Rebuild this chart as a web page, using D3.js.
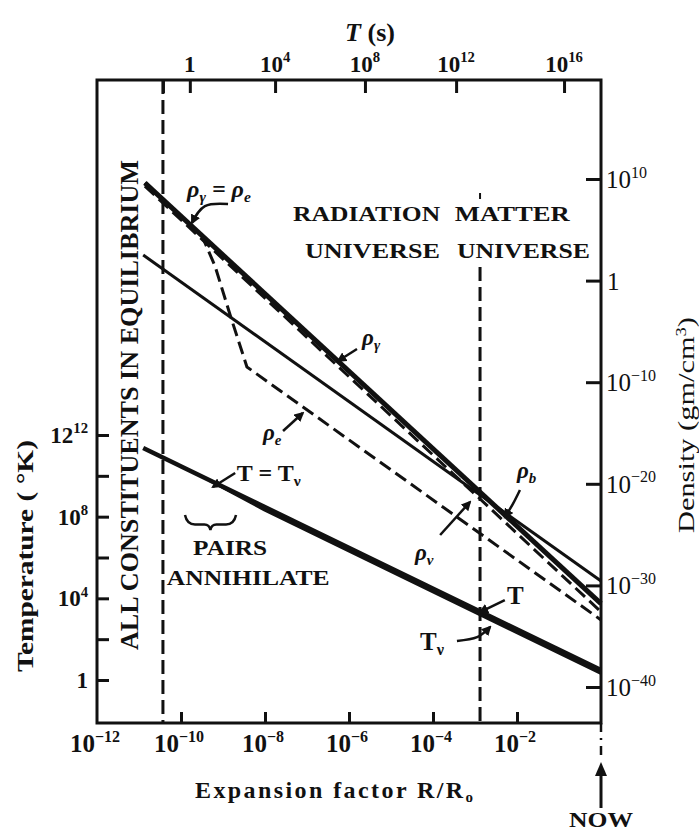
<!DOCTYPE html>
<html lang="en">
<head>
<meta charset="UTF-8">
<title>Thermal history of the universe</title>
<script src="https://d3js.org/d3.v7.min.js"></script>
<style>
  body { margin: 0; background: #fff; }
  svg text { font-family: "Liberation Serif", "DejaVu Serif", serif; fill: #111; }
</style>
</head>
<body>
<script>
// --- data (log10 values) ---
// expansion factor R/R0
var xTickExp = [-12, -10, -8, -6, -4, -2];
// time T(s) labels and the R/R0 where they sit on the top axis
var timeExp = ["0", "4", "8", "12", "16"];
var timeAtR = [-9.79, -7.76, -5.62, -3.45, -0.88];
var equilR = -10.43;   // end of "all constituents in equilibrium"
var matterR = -2.88;   // radiation / matter boundary
var matterTop = 1.34;  // top of that dashed line, in density units
// temperature (K)
var tempMajor = [0, 4, 8, 12];
var tempBase = ["1", "10", "10", "12"];
var tempSup = ["", "4", "8", "12"];
var tempMinor = [2, 6, 10];
// density (gm/cm^3)
var densTickExp = [10, 0, -10, -20, -30, -40];

// curves: [log10 R/R0, log10 value]
var rhoGamma = [[-10.86, 9.61], [0, -31.8]];
var rhoNu = [[-10.86, 9.3], [0, -32.6]];
var rhoE = [[-10.86, 9.61], [-9.5, 4.39], [-9.19, 1.44], [-8.83, -3.39], [-8.43, -8.5], [0, -33.4]];
var rhoB = [[-10.9, 2.52], [0, -29.57]];
var tempT = [[-10.9, 11.36], [0, 0.49]];
var tempTnu = [[-9.31, 9.77], [-8.0, 8.33], [0, 0.33]];

// --- layout ---
var W = 699, H = 833;
var plotL = 97, plotR = 601, plotT = 80, plotB = 723;

var svg = d3.select("body").append("svg").attr("width", W).attr("height", H);

var x = d3.scaleLog().domain([1e-12, 1]).range([plotL, plotR]);
var yT = d3.scaleLog().domain([1, 1e12]).range([680, 435]);
var yD = d3.scaleLog().domain([1e-40, 1e10]).range([687, 179]);
function p10(v) { return Math.pow(10, v); }
function P(la, lr) { return [x(p10(la)), yD(p10(lr))]; }

svg.append("defs").append("marker")
  .attr("id", "ah").attr("viewBox", "0 0 10 10").attr("refX", 8).attr("refY", 5)
  .attr("markerWidth", 4).attr("markerHeight", 4).attr("orient", "auto")
  .append("path").attr("d", "M0,0 L10,5 L0,10 z").attr("fill", "#111");

// frame
svg.append("rect").attr("x", plotL).attr("y", plotT)
  .attr("width", plotR - plotL).attr("height", plotB - plotT)
  .attr("fill", "none").attr("stroke", "#111").attr("stroke-width", 3);

// bottom ticks
var bAxis = svg.append("g").attr("transform", "translate(0," + plotB + ")")
  .call(d3.axisBottom(x).tickValues(xTickExp.slice(1).map(p10)).tickSizeInner(-11).tickSizeOuter(0).tickFormat(""));
bAxis.select(".domain").remove();
bAxis.selectAll("line").attr("stroke", "#111").attr("stroke-width", 3);

function supText(g, xx, yy, base, sup, anchor, size, weight) {
  var t = g.append("text").attr("x", xx).attr("y", yy).attr("text-anchor", anchor)
    .attr("font-size", size).attr("font-weight", weight);
  t.append("tspan").text(base);
  if (sup) t.append("tspan").attr("dy", -size * 0.42).attr("font-size", size * 0.64).text(sup);
  return t;
}

xTickExp.forEach(function (e) {
  supText(svg, x(p10(e)) - 2, 752, "10", "\u2212" + (-e), "middle", 25, "bold");
});

// top axis T(s)
var tAxis = svg.append("g").attr("transform", "translate(0," + plotT + ")")
  .call(d3.axisTop(x).tickValues(timeAtR.concat([equilR]).map(p10)).tickSizeInner(-13).tickSizeOuter(0).tickFormat(""));
tAxis.select(".domain").remove();
tAxis.selectAll("line").attr("stroke", "#111").attr("stroke-width", 3);
timeAtR.forEach(function (r, i) {
  if (timeExp[i] === "0") supText(svg, x(p10(r)), 72, "1", "", "middle", 23, "bold");
  else supText(svg, x(p10(r)), 72, "10", timeExp[i], "middle", 23, "bold");
});
var ts = svg.append("text").attr("x", 370).attr("y", 41).attr("text-anchor", "middle")
  .attr("font-size", 26).attr("font-weight", "bold");
ts.append("tspan").attr("font-style", "italic").text("T");
ts.append("tspan").text(" (s)");

// left temperature axis
var lAxis = svg.append("g").attr("transform", "translate(" + plotL + ",0)")
  .call(d3.axisLeft(yT).tickValues(tempMajor.concat(tempMinor).map(p10)).tickSizeInner(-12).tickSizeOuter(0).tickFormat(""));
lAxis.select(".domain").remove();
lAxis.selectAll("line").attr("stroke", "#111").attr("stroke-width", 3);
tempMajor.forEach(function (e, i) {
  supText(svg, 88, yT(p10(e)) + 8, tempBase[i], tempSup[i], "end", 23, "bold");
});
svg.append("text").attr("transform", "translate(33,556) rotate(-90)")
  .attr("text-anchor", "middle").attr("font-size", 24).attr("font-weight", "bold")
  .attr("textLength", 232).attr("lengthAdjust", "spacingAndGlyphs")
  .text("Temperature ( \u00b0K)");

// right density axis
var rAxis = svg.append("g").attr("transform", "translate(" + plotR + ",0)")
  .call(d3.axisRight(yD).tickValues(densTickExp.map(p10)).tickSizeInner(-15).tickSizeOuter(0).tickFormat(""));
rAxis.select(".domain").remove();
rAxis.selectAll("line").attr("stroke", "#111").attr("stroke-width", 3);
densTickExp.forEach(function (e) {
  if (e === 0) supText(svg, 607, yD(1) + 9, "1", "", "start", 25, "normal");
  else supText(svg, 606, yD(p10(e)) + 9, "10", e < 0 ? "\u2212" + (-e) : "" + e, "start", 25, "normal");
});
var dl = svg.append("text").attr("transform", "translate(694,425) rotate(-90)")
  .attr("text-anchor", "middle").attr("font-size", 23)
  .attr("textLength", 216).attr("lengthAdjust", "spacingAndGlyphs");
dl.append("tspan").text("Density (gm/cm");
dl.append("tspan").attr("dy", -8).attr("font-size", 14).text("3");
dl.append("tspan").attr("dy", 8).text(")");

// x title
var xt = svg.append("text").attr("x", 334).attr("y", 798).attr("text-anchor", "middle")
  .attr("font-size", 24).attr("font-weight", "bold")
  .attr("textLength", 278).attr("lengthAdjust", "spacing");
xt.append("tspan").text("Expansion factor R/R");
xt.append("tspan").attr("dy", 4).attr("font-size", 15).text("o");

// dashed boundaries
svg.append("line").attr("x1", x(p10(equilR))).attr("x2", x(p10(equilR)))
  .attr("y1", plotT).attr("y2", plotB)
  .attr("stroke", "#111").attr("stroke-width", 3).attr("stroke-dasharray", "14,6");
svg.append("line").attr("x1", x(p10(matterR))).attr("x2", x(p10(matterR)))
  .attr("y1", yD(p10(matterTop))).attr("y2", plotB)
  .attr("stroke", "#111").attr("stroke-width", 3).attr("stroke-dasharray", "14,6");
svg.append("line").attr("x1", x(p10(matterR))).attr("x2", x(p10(matterR)))
  .attr("y1", yD(p10(8.62))).attr("y2", yD(p10(8.03)))
  .attr("stroke", "#111").attr("stroke-width", 2);

// curves
var lineD = d3.line().x(function (d) { return x(p10(d[0])); }).y(function (d) { return yD(p10(d[1])); });
var lineT = d3.line().x(function (d) { return x(p10(d[0])); }).y(function (d) { return yT(p10(d[1])); });

function draw(path, w, dash) {
  var p = svg.append("path").attr("d", path).attr("fill", "none")
    .attr("stroke", "#111").attr("stroke-width", w).attr("stroke-linejoin", "round");
  if (dash) p.attr("stroke-dasharray", dash);
}
draw(lineD(rhoB), 3);
draw(lineD(rhoGamma), 5);
draw(lineD(rhoNu), 3, "13,6");
draw(lineD(rhoE), 3, "13,6");
draw(lineT(tempT), 4.5);
draw(lineT(tempTnu), 3.5);

// labels on curves
function label(pos, parts, size, italic, anchor) {
  var p = P(pos[0], pos[1]);
  var t = svg.append("text").attr("x", p[0]).attr("y", p[1]).attr("font-size", size)
    .attr("font-weight", "bold").attr("text-anchor", anchor || "start");
  parts.forEach(function (s) {
    var sp = t.append("tspan").text(s[0]);
    if (italic) sp.attr("font-style", "italic");
    if (s[1] === "sub") sp.attr("dy", 5).attr("font-size", size * 0.65);
    if (s[1] === "back") sp.attr("dy", -5);
  });
  return t;
}
label([-9.857, 8.23], [["\u03c1"], ["\u03b3", "sub"], [" = \u03c1", "back"], ["e", "sub"]], 24, true);
label([-5.69, -6.34], [["\u03c1"], ["\u03b3", "sub"]], 23, true);
label([-8.05, -15.69], [["\u03c1"], ["e", "sub"]], 23, true);
label([-2.0, -19.43], [["\u03c1"], ["b", "sub"]], 23, true);
label([-4.43, -27.5], [["\u03c1"], ["\u03bd", "sub"]], 23, true);
label([-8.67, -19.72], [["T = T"], ["\u03bd", "sub"]], 24, false);
label([-2.24, -31.83], [["T"]], 25, false);
label([-4.31, -36.36], [["T"], ["\u03bd", "sub"]], 25, false);

// pointers
var ptrs = [
  [[-8.88, 7.54], [-9.43, 7.34], [-9.74, 5.67]],
  [[-5.81, -6.73], [-6.26, -7.91]],
  [[-7.57, -14.8], [-7.10, -13.03]],
  [[-8.71, -18.94], [-9.24, -20.31]],
  [[-1.93, -20.61], [-2.1, -22.0], [-2.29, -23.27]],
  [[-3.83, -25.04], [-3.12, -21.79]],
  [[-2.29, -31.44], [-2.88, -32.62]],
  [[-3.43, -35.47], [-2.95, -35.1], [-2.64, -34.09]]
];
var lineP = d3.line().curve(d3.curveNatural)
  .x(function (d) { return x(p10(d[0])); }).y(function (d) { return yD(p10(d[1])); });
ptrs.forEach(function (pt) {
  svg.append("path").attr("d", lineP(pt)).attr("fill", "none").attr("stroke", "#111")
    .attr("stroke-width", 2.5).attr("marker-end", "url(#ah)");
});

// region texts
function block(pos, str, len, anchor) {
  var p = P(pos[0], pos[1]);
  svg.append("text").attr("x", p[0]).attr("y", p[1]).attr("font-size", 22)
    .attr("font-weight", "bold").attr("text-anchor", anchor || "start")
    .attr("textLength", len).attr("lengthAdjust", "spacingAndGlyphs").text(str);
}
block([-7.33, 5.87], "RADIATION", 147);
block([-7.05, 2.22], "UNIVERSE", 135);
block([-3.48, 5.87], "MATTER", 115);
block([-3.43, 2.22], "UNIVERSE", 133);
block([-8.83, -27.0], "PAIRS", 74, "middle");
block([-8.40, -29.96], "ANNIHILATE", 163, "middle");

svg.append("text").attr("transform", "translate(138,405) rotate(-90)")
  .attr("text-anchor", "middle").attr("font-size", 25).attr("font-weight", "bold")
  .attr("textLength", 490).attr("lengthAdjust", "spacingAndGlyphs")
  .text("ALL CONSTITUENTS IN EQUILIBRIUM");

// brace over "pairs annihilate"
var bl = P(-9.905, -23.07), br = P(-8.69, -23.07), bm = P(-9.30, -24.55);
var bd = (bl[1] + bm[1]) / 2 + 2;
var bp = d3.path();
bp.moveTo(bl[0], bl[1]);
bp.quadraticCurveTo(bl[0] + 2, bd, bl[0] + 10, bd);
bp.lineTo(bm[0] - 6, bd);
bp.quadraticCurveTo(bm[0] - 1, bd, bm[0], bm[1]);
bp.quadraticCurveTo(bm[0] + 1, bd, bm[0] + 6, bd);
bp.lineTo(br[0] - 10, bd);
bp.quadraticCurveTo(br[0] - 2, bd, br[0], bl[1]);
svg.append("path").attr("d", bp.toString()).attr("fill", "none")
  .attr("stroke", "#111").attr("stroke-width", 2.5);

// NOW marker
var nx = x(1);
svg.append("line").attr("x1", nx).attr("x2", nx).attr("y1", plotB).attr("y2", 760)
  .attr("stroke", "#111").attr("stroke-width", 2.5).attr("stroke-dasharray", "9,6,2,6");
svg.append("line").attr("x1", nx).attr("x2", nx).attr("y1", 808).attr("y2", 772)
  .attr("stroke", "#111").attr("stroke-width", 3);
svg.append("path").attr("d", "M" + (nx - 6) + ",776 L" + nx + ",762 L" + (nx + 6) + ",776 z")
  .attr("fill", "#111");
svg.append("text").attr("x", nx).attr("y", 827).attr("text-anchor", "middle")
  .attr("font-size", 22).attr("font-weight", "bold")
  .attr("textLength", 64).attr("lengthAdjust", "spacingAndGlyphs").text("NOW");
</script>
</body>
</html>
